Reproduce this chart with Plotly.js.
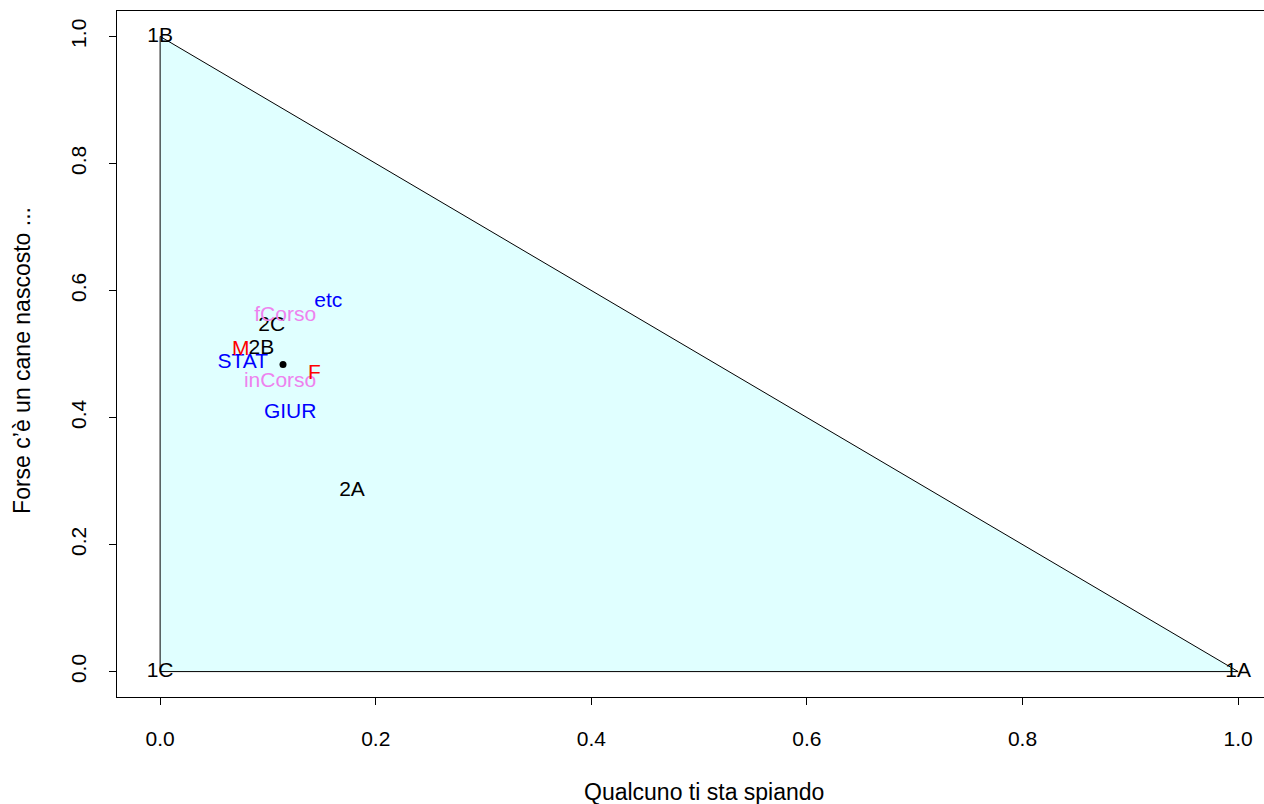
<!DOCTYPE html>
<html>
<head>
<meta charset="utf-8">
<script src="https://cdn.plot.ly/plotly-3.0.1.min.js"></script>
<style>html,body{margin:0;padding:0;background:#fff;}#chart{width:1264px;height:804px;}</style>
</head>
<body>
<div id="chart"></div>
<script>
// Triangle vertices
const vertexX = [1, 0, 0];
const vertexY = [0, 1, 0];
const vertexLabels = ['1A', '1B', '1C'];

// Centre point
const centerX = [0.114];
const centerY = [0.4835];

// Black group
const blackLabels = ['2A', '2B', '2C'];
const blackX = [0.178, 0.094, 0.1036];
const blackY = [0.285, 0.508, 0.544];

// Red group
const redLabels = ['M', 'F'];
const redX = [0.0748, 0.1431];
const redY = [0.507, 0.469];

// Blue group
const blueLabels = ['STAT', 'GIUR', 'etc'];
const blueX = [0.0767, 0.1206, 0.156];
const blueY = [0.486, 0.4074, 0.583];

// Violet group
const violetLabels = ['inCorso', 'fCorso'];
const violetX = [0.1113, 0.116];
const violetY = [0.4556, 0.5596];

const tickVals = [0, 0.2, 0.4, 0.6, 0.8, 1.0];
const tickText = ['0.0', '0.2', '0.4', '0.6', '0.8', '1.0'];

const FONT = 'Liberation Sans, Arial, Helvetica, sans-serif';
const FS = 21;
const TFS = 23;

function textTrace(x, y, t, color) {
  return {x: x, y: y, text: t, mode: 'text', type: 'scatter',
    textposition: 'middle center', cliponaxis: false,
    textfont: {family: FONT, size: FS, color: color}, hoverinfo: 'skip', showlegend: false};
}

const traces = [
  {x: vertexX.concat([vertexX[0]]), y: vertexY.concat([vertexY[0]]), type: 'scatter', mode: 'lines',
   fill: 'toself', fillcolor: '#E0FFFF', line: {color: '#000', width: 1}, hoverinfo: 'skip', showlegend: false},
  {x: centerX, y: centerY, type: 'scatter', mode: 'markers', marker: {color: '#000', size: 7}, showlegend: false},
  textTrace(vertexX, vertexY, vertexLabels, '#000000'),
  textTrace(blackX, blackY, blackLabels, '#000000'),
  textTrace(violetX, violetY, violetLabels, '#EE82EE'),
  textTrace(blueX, blueY, blueLabels, '#0000FF'),
  textTrace(redX, redY, redLabels, '#FF0000')
];

const layout = {
  width: 1264, height: 804,
  margin: {l: 117, r: 0, t: 11, b: 107, pad: 0},
  paper_bgcolor: '#fff', plot_bgcolor: '#fff',
  font: {family: FONT, size: FS, color: '#000'},
  showlegend: false,
  xaxis: {range: [-0.04, 1.02401], showgrid: false, zeroline: false,
    showline: true, mirror: true, linecolor: '#000', linewidth: 1,
    ticks: 'outside', ticklen: 7, tickcolor: '#000', tickwidth: 1,
    tickvals: tickVals, ticktext: tickText, ticklabelstandoff: 16,
    tickfont: {family: FONT, size: FS, color: '#000'}},
  yaxis: {range: [-0.04, 1.04], showgrid: false, zeroline: false,
    showline: true, mirror: false, linecolor: '#000', linewidth: 1,
    ticks: 'outside', ticklen: 7, tickcolor: '#000', tickwidth: 1,
    tickvals: tickVals, ticktext: tickText, tickangle: -90, ticklabelstandoff: 15,
    tickfont: {family: FONT, size: FS, color: '#000'}},
  annotations: [
    {text: 'Qualcuno ti sta spiando', xref: 'paper', yref: 'paper', x: 0.5118, y: -0.1385,
     xanchor: 'center', yanchor: 'middle', showarrow: false, font: {family: FONT, size: TFS, color: '#000'}},
    {text: 'Forse c\u2019è un cane nascosto ...', xref: 'paper', yref: 'paper', x: -0.0828, y: 0.49,
     xanchor: 'center', yanchor: 'middle', textangle: -90, showarrow: false, font: {family: FONT, size: TFS, color: '#000'}}
  ]
};

Plotly.newPlot('chart', traces, layout, {displayModeBar: false, staticPlot: true});
</script>
</body>
</html>
